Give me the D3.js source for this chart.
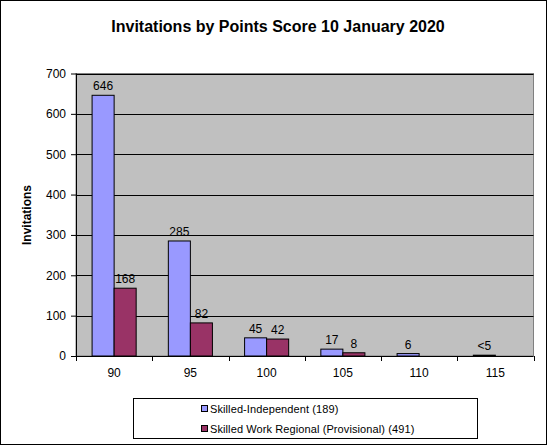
<!DOCTYPE html>
<html>
<head>
<meta charset="utf-8">
<script src="https://cdn.jsdelivr.net/npm/d3@7"></script>
<style>
	body { margin:0; background:white; }
	text { font-family:"Liberation Sans", Arial, sans-serif; fill:#000; }
</style>
</head>
<body>
<div id="chart"></div>
<script>
// data
var scores = ['90','95','100','105','110','115']
var independent = [646, 285, 45, 17, 6, 2]
var regional = [168, 82, 42, 8, 0, 0]
var independentLabels = ['646','285','45','17','6','<5']
var regionalLabels = ['168','82','42','8','','']
var yTicks = [0, 100, 200, 300, 400, 500, 600, 700]
var seriesNames = ['Skilled-Independent (189)', 'Skilled Work Regional (Provisional) (491)']
var seriesColors = ['#9999ff', '#993366']

var W = 549, H = 447
var plot = {left:76, right:533.5, top:73.5, bottom:356}

var svg = d3.select('#chart').append('svg')
	.attr('width', W)
	.attr('height', H)

svg.append('rect')
	.attr('x', 0.5).attr('y', 0.5)
	.attr('width', W - 3).attr('height', H - 3)
	.attr('fill', 'white')
	.attr('stroke', '#000')

svg.append('text')
	.attr('x', 278)
	.attr('y', 32)
	.attr('text-anchor', 'middle')
	.style('font-size', '16px')
	.style('font-weight', 'bold')
	.text('Invitations by Points Score 10 January 2020')

var x = d3.scaleBand()
	.domain(scores)
	.range([plot.left, plot.right])
	.paddingInner(0)
	.paddingOuter(0)

// two bars per group, 22px each, 16px gap on each side
var inner = d3.scaleBand()
	.domain([0, 1])
	.range([0, x.bandwidth()])
	.paddingInner(0)
	.paddingOuter(0.73)

var y = d3.scaleLinear()
	.domain([0, 700])
	.range([plot.bottom, plot.top])

// plot area
svg.append('rect')
	.attr('x', plot.left).attr('y', plot.top)
	.attr('width', plot.right - plot.left)
	.attr('height', plot.bottom - plot.top)
	.attr('fill', '#c0c0c0')
	.attr('stroke', '#808080')

svg.append('g')
	.selectAll('line')
	.data(yTicks.slice(1))
	.enter()
	.append('line')
	.attr('x1', plot.left).attr('x2', plot.right)
	.attr('y1', function(d){ return Math.round(y(d)) + 0.5 })
	.attr('y2', function(d){ return Math.round(y(d)) + 0.5 })
	.attr('stroke', '#000')

// bars
var series = [
	{vals:independent, labels:independentLabels, color:seriesColors[0]},
	{vals:regional, labels:regionalLabels, color:seriesColors[1]}
]
series.forEach(function(s, si){
	var g = svg.append('g')
	g.selectAll('rect')
		.data(s.vals)
		.enter()
		.append('rect')
		.filter(function(d){ return d > 0 })
		.attr('x', function(d,i){ return x(scores[i]) + inner(si) })
		.attr('y', function(d){ return y(d) })
		.attr('width', inner.bandwidth())
		.attr('height', function(d){ return y(0) - y(d) })
		.attr('fill', s.color)
		.attr('stroke', '#000')
		.attr('stroke-width', 1)
	g.selectAll('text')
		.data(s.labels)
		.enter()
		.append('text')
		.attr('x', function(d,i){ return x(scores[i]) + inner(si) + inner.bandwidth()/2 })
		.attr('y', function(d,i){ return y(s.vals[i]) - 5 })
		.attr('text-anchor', 'middle')
		.style('font-size', '12px')
		.text(function(d){ return d })
})

// y axis
var yAxis = svg.append('g')
	.attr('transform', 'translate(' + plot.left + ',0)')
	.call(d3.axisLeft(y).tickValues(yTicks).tickSize(5).tickPadding(5))
yAxis.select('.domain').attr('stroke', '#000').attr('d', 'M0.5,' + plot.top + 'V' + plot.bottom)
yAxis.selectAll('text').style('font-size', '12px').attr('font-family', null)

// x axis with ticks between categories
var xAxis = svg.append('g')
	.attr('transform', 'translate(0,' + plot.bottom + ')')
xAxis.append('line')
	.attr('x1', plot.left).attr('x2', plot.right)
	.attr('y1', 0.5).attr('y2', 0.5)
	.attr('stroke', '#000')
xAxis.selectAll('line.tick')
	.data(scores.concat(['end']))
	.enter()
	.append('line')
	.attr('class', 'tick')
	.attr('x1', function(d,i){ return Math.round(plot.left + i * x.step()) + 0.5 })
	.attr('x2', function(d,i){ return Math.round(plot.left + i * x.step()) + 0.5 })
	.attr('y1', 0).attr('y2', 5)
	.attr('stroke', '#000')
xAxis.selectAll('text')
	.data(scores)
	.enter()
	.append('text')
	.attr('x', function(d){ return x(d) + x.bandwidth()/2 })
	.attr('y', 21)
	.attr('text-anchor', 'middle')
	.style('font-size', '12px')
	.text(function(d){ return d })

svg.append('text')
	.attr('transform', 'translate(31,215) rotate(-90)')
	.attr('text-anchor', 'middle')
	.style('font-size', '12px')
	.style('font-weight', 'bold')
	.text('Invitations')

// legend
svg.append('rect')
	.attr('x', 133.5).attr('y', 398.5)
	.attr('width', 344).attr('height', 40)
	.attr('fill', 'white')
	.attr('stroke', '#000')
var legend = svg.append('g')
legend.selectAll('g')
	.data(seriesNames)
	.enter()
	.append('g')
	.attr('transform', function(d,i){ return 'translate(202,' + (409 + i*20) + ')' })
	.each(function(d,i){
		var e = d3.select(this)
		e.append('rect')
			.attr('x', -0.5).attr('y', -3.5)
			.attr('width', 6).attr('height', 6)
			.attr('fill', seriesColors[i])
			.attr('stroke', '#000')
		e.append('text')
			.attr('x', 8)
			.attr('y', 4)
			.style('font-size', '11px')
			.style('letter-spacing', '0.1px')
			.text(d)
	})
</script>
</body>
</html>
